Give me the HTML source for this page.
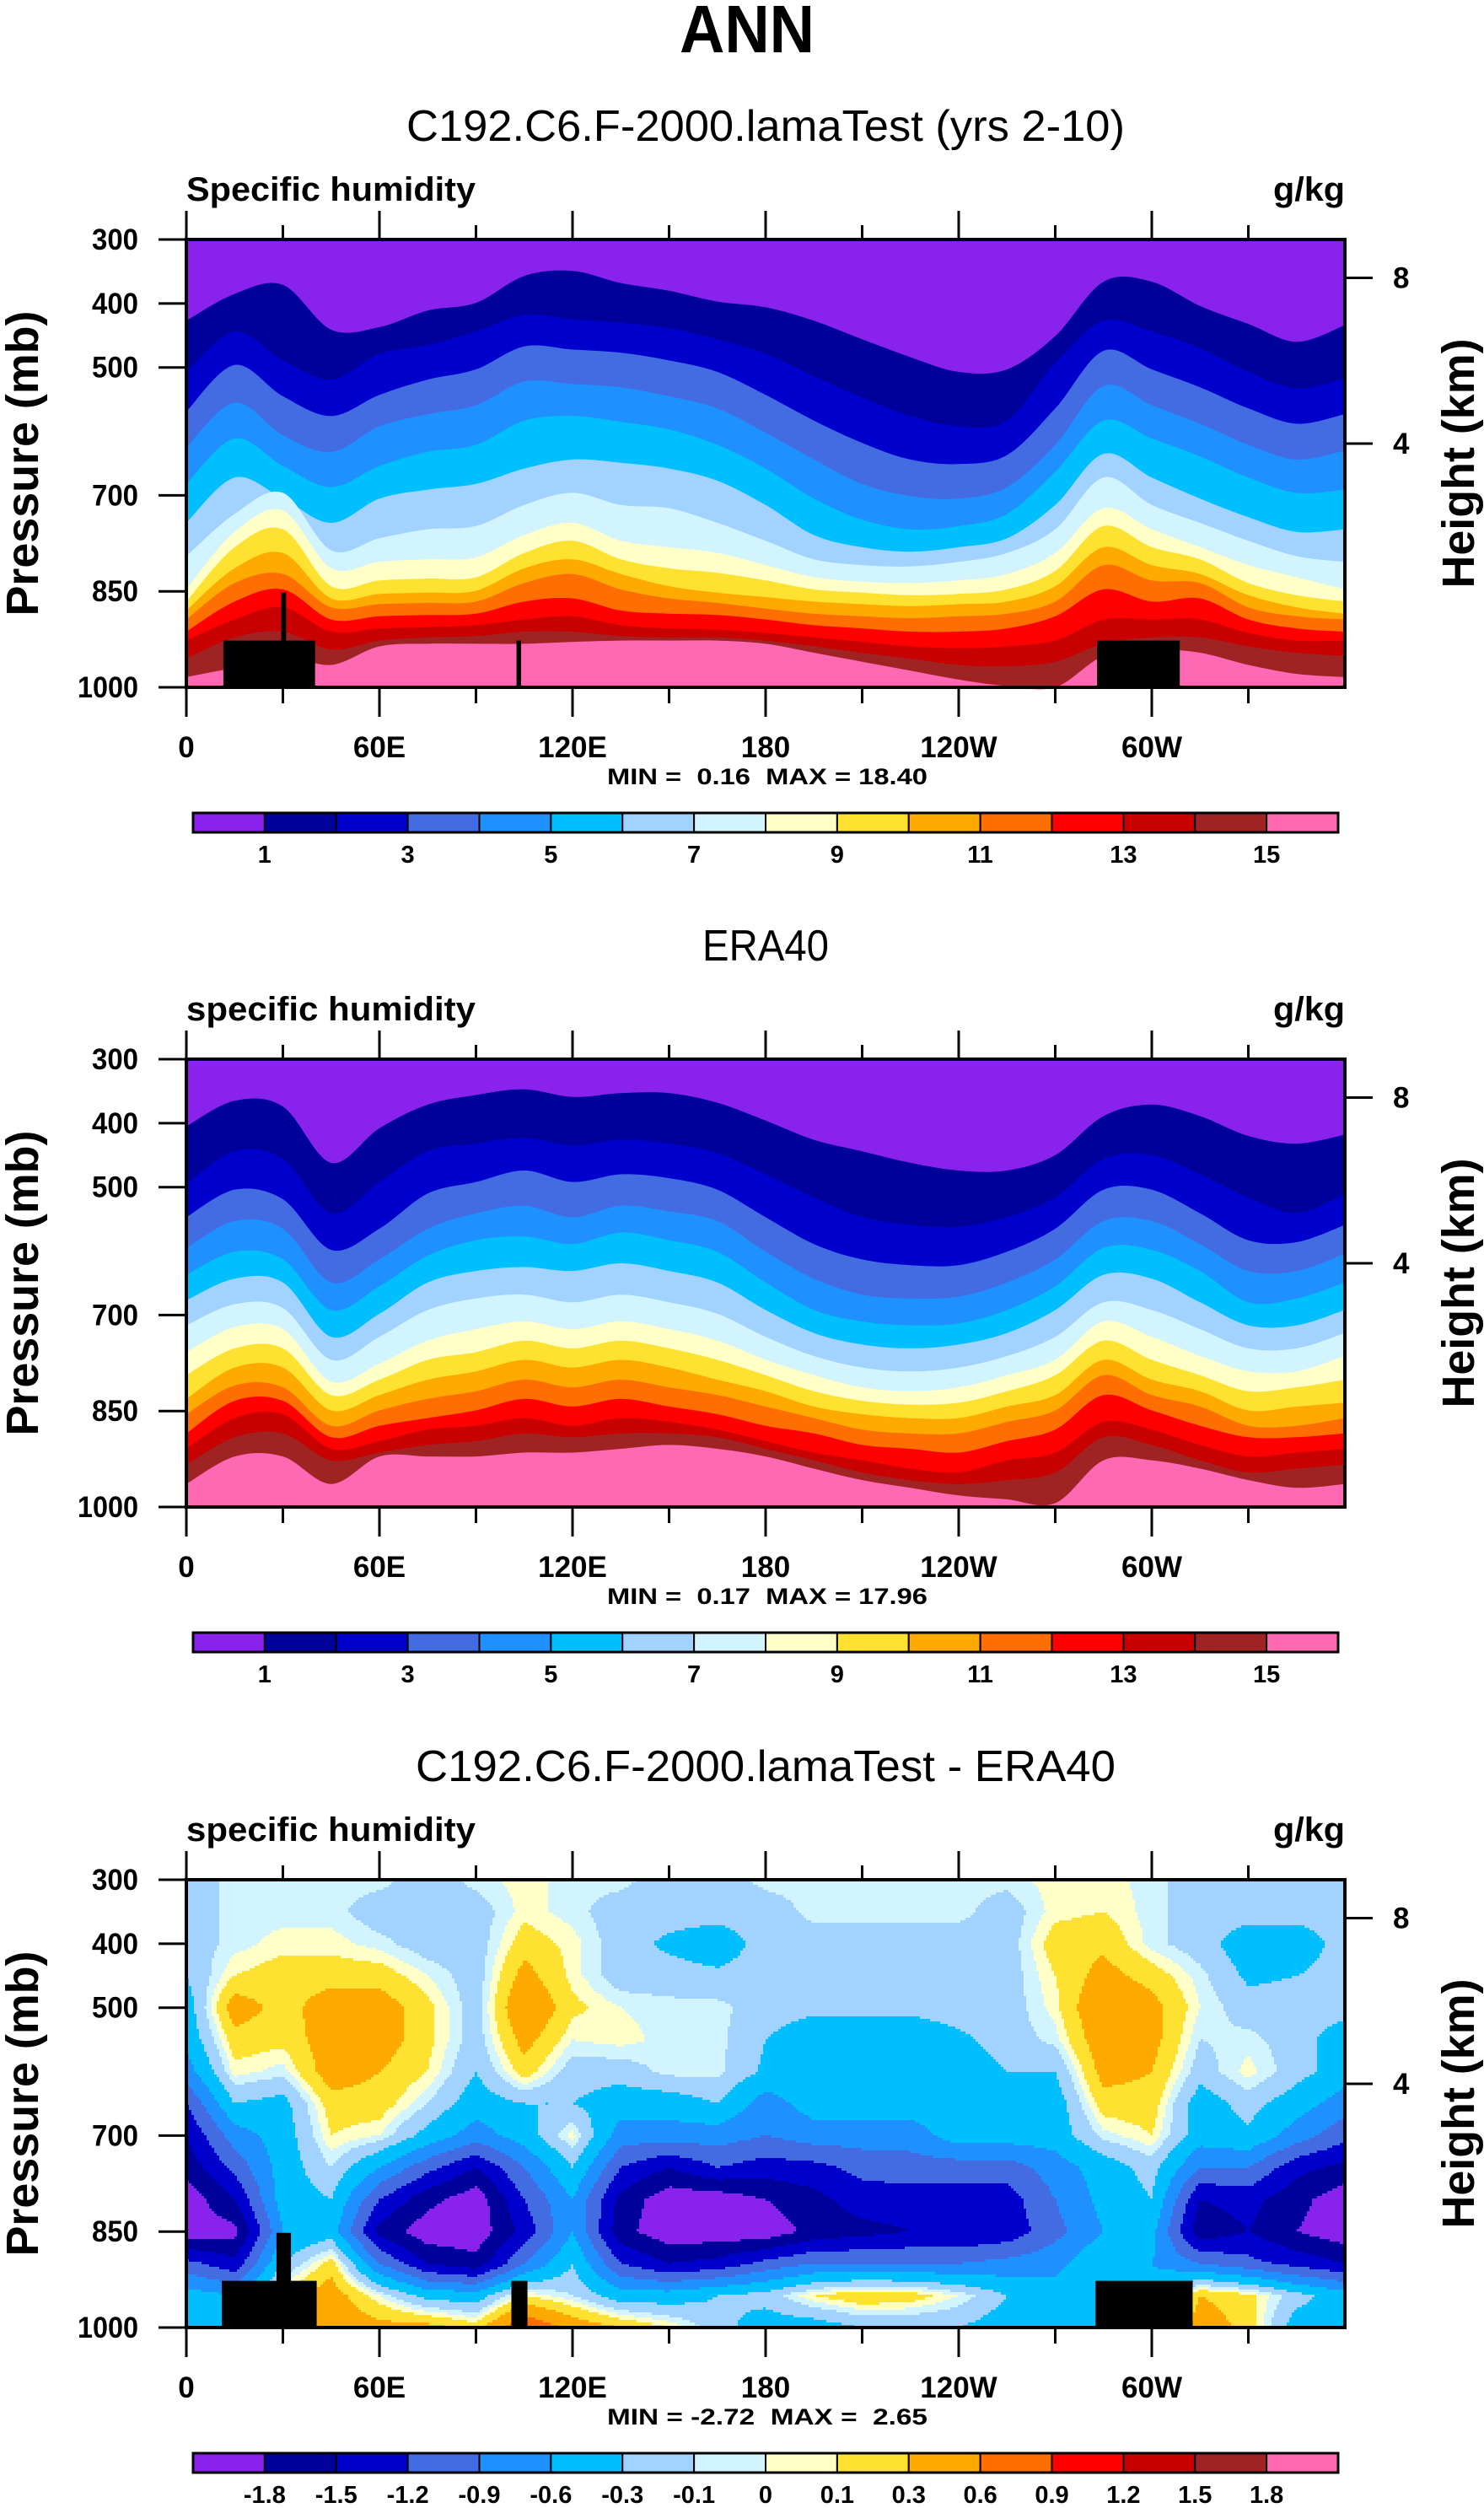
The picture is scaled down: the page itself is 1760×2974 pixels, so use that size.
<!DOCTYPE html>
<html><head><meta charset="utf-8"><title>ANN specific humidity</title>
<style>
html,body{margin:0;padding:0;background:#fff;}
svg{display:block;font-family:"Liberation Sans",Arial,sans-serif;}
.pre{white-space:pre;}
</style></head>
<body>
<svg id="chart" xmlns="http://www.w3.org/2000/svg" width="1760" height="2974" viewBox="0 0 1760 2974">
<rect x="0" y="0" width="1760" height="2974" fill="#fff"/>
</svg>
<script>
// ---------- shared data ----------
const lons = [0,15,30,45,60,75,90,105,120,135,150,165,180,195,210,225,240,255,270,285,300,315,330,345,360];
const palette = ["#8a22ee","#00009a","#0000cd","#436be2","#1f90ff","#00bfff","#a2d2ff","#d2f4ff","#ffffc8","#ffe132","#ffaa00","#ff6e00","#ff0000","#c80000","#a02323","#ff69b4"];
const levelLabelsAbs = ["1","3","5","7","9","11","13","15"];
const levelLabelsDiff = ["-1.8","-1.5","-1.2","-0.9","-0.6","-0.3","-0.1","0","0.1","0.3","0.6","0.9","1.2","1.5","1.8"];
const diffThresholds = [-1.8,-1.5,-1.2,-0.9,-0.6,-0.3,-0.1,0,0.1,0.3,0.6,0.9,1.2,1.5,1.8];
const lonTickLabels = ["0","60E","120E","180","120W","60W"];
const lonTickValues = [0,60,120,180,240,300];
const presTicks = [300,400,500,700,850,1000];
const heightTicks = ["8","4"];
const heightTickPres = [360,619];
const panelTitles = ["C192.C6.F-2000.lamaTest (yrs 2-10)","ERA40","C192.C6.F-2000.lamaTest - ERA40"];
const leftTitles = ["Specific humidity","specific humidity","specific humidity"];
const minmaxText = ["MIN =  0.16  MAX = 18.40","MIN =  0.17  MAX = 17.96","MIN = -2.72  MAX =  2.65"];

// ---------- panel 1 (model) : pressure (mb) of each q contour level 1..15 g/kg ----------
const model_q1 = [427,385,371,441,437,411,399,357,349,368,380,397,406,427,456,484,507,503,451,366,366,404,432,460,434];
const model_q2 = [507,444,489,519,479,465,444,418,425,430,439,456,479,514,547,576,592,583,493,427,444,470,507,533,517];
const model_q3 = [569,496,545,576,543,519,503,467,472,477,489,507,543,583,618,644,651,637,564,474,503,531,564,588,573];
const model_q4 = [625,555,606,632,592,573,559,522,526,531,545,564,602,644,682,701,705,687,621,529,559,588,621,644,630];
const model_q5 = [682,611,654,687,654,632,621,583,576,585,597,621,658,705,738,753,748,729,663,583,611,639,672,696,691];
const model_q6 = [743,672,705,743,705,691,682,658,644,649,658,677,715,762,781,788,781,767,715,635,672,705,734,757,753];
const model_q7 = [795,729,696,786,767,753,748,715,696,715,720,743,771,800,809,811,804,790,753,672,715,743,771,795,804];
const model_q8 = [847,757,724,814,804,800,797,762,743,771,781,790,809,828,835,837,833,823,790,720,753,781,809,828,847];
const model_q9 = [866,781,753,842,833,830,828,790,771,800,814,821,833,847,852,856,854,847,818,748,781,800,837,856,866];
const model_q10 = [880,814,790,861,854,852,849,814,800,823,842,852,859,866,870,873,870,866,842,781,809,823,856,875,885];
const model_q11 = [894,837,823,875,870,868,866,837,823,847,861,868,877,885,889,892,889,885,866,809,833,837,875,889,894];
const model_q12 = [913,866,847,894,889,887,885,866,861,880,885,887,894,903,908,913,913,908,889,847,866,861,894,908,913];
const model_q13 = [927,894,875,913,908,906,903,894,889,903,908,910,915,922,929,936,939,936,927,894,894,894,915,927,927];
const model_q14 = [955,922,913,941,927,922,920,913,913,920,922,922,927,936,946,955,965,967,960,932,922,922,936,946,951];
const model_q15 = [984,969,951,965,936,932,932,932,929,927,927,927,932,946,960,974,988,998,1000,951,941,946,965,979,984];

// ---------- panel 2 (ERA40) ----------
const era_q1 = [405,365,374,462,408,371,356,347,359,353,353,368,396,426,444,462,474,474,450,389,371,389,420,432,418];
const era_q2 = [495,444,456,541,492,444,432,423,435,426,432,447,480,516,547,559,562,547,516,456,450,480,516,541,510];
const era_q3 = [547,504,519,598,565,510,492,474,492,480,486,504,547,589,613,622,622,601,565,504,504,541,583,586,559];
const era_q4 = [595,553,565,649,613,565,541,529,547,529,538,553,601,643,668,674,671,649,613,553,553,589,631,631,604];
const era_q5 = [637,601,613,692,655,607,583,577,589,571,583,601,649,692,710,716,713,692,655,595,598,631,680,674,649];
const era_q6 = [677,643,649,734,698,649,631,625,631,619,631,649,692,728,746,752,746,728,692,637,643,680,716,716,692];
const era_q7 = [716,683,689,770,734,692,674,668,680,668,680,698,734,764,782,788,782,764,734,680,692,722,752,752,728];
const era_q8 = [758,719,722,804,776,740,722,710,722,710,722,740,770,794,813,819,813,794,770,710,734,764,788,788,764];
const era_q9 = [794,752,752,825,801,770,758,740,752,740,752,770,794,819,834,840,837,819,794,740,770,794,819,813,801];
const era_q10 = [831,782,782,849,825,801,788,770,782,770,782,801,819,843,855,861,861,843,825,770,801,819,849,843,837];
const era_q11 = [855,810,813,873,849,831,819,801,813,801,813,825,843,861,879,885,885,867,849,794,825,843,873,873,861];
const era_q12 = [885,834,834,891,873,861,849,831,843,831,843,855,873,885,903,909,915,897,879,825,849,873,891,891,885];
const era_q13 = [909,861,855,909,897,879,873,861,873,861,867,879,897,915,927,940,946,927,915,867,879,903,921,915,909];
const era_q14 = [934,891,885,927,915,903,897,885,891,885,885,891,909,927,946,958,964,958,946,891,903,927,946,940,934];
const era_q15 = [964,921,921,964,921,921,921,915,915,909,903,909,921,940,958,970,982,988,994,927,927,940,958,970,964];

// ---------- panel 3 (difference) : grid of values, rows = pressure ----------
const diffPres = [300,350,400,450,500,550,600,650,700,750,800,850,900,950,1000];
const d300 = [-0.2,-0.05,-0.05,-0.05,-0.05,-0.2,-0.05,0.05,-0.05,-0.05,-0.2,-0.2,-0.05,-0.05,-0.05,-0.05,-0.05,-0.05,0.05,0.05,-0.05,-0.2,-0.2,-0.2,-0.2];
const d350 = [-0.2,-0.05,-0.05,-0.05,-0.2,-0.2,-0.2,0.05,-0.05,-0.2,-0.2,-0.2,-0.2,-0.05,-0.05,-0.05,-0.05,-0.2,0.05,0.1,-0.05,-0.2,-0.2,-0.2,-0.2];
const d400 = [-0.2,-0.05,0.05,0.05,-0.05,-0.2,-0.2,0.2,0.05,-0.2,-0.35,-0.45,-0.2,-0.2,-0.2,-0.2,-0.2,-0.2,0.2,0.25,-0.05,-0.2,-0.45,-0.45,-0.2];
const d450 = [-0.3,0.1,0.2,0.2,0.2,0.0,-0.2,0.4,0.05,-0.2,-0.2,-0.25,-0.2,-0.2,-0.2,-0.2,-0.2,-0.2,0.1,0.4,0.2,-0.05,-0.35,-0.3,-0.2];
const d500 = [-0.45,0.45,0.2,0.45,0.45,0.15,-0.2,0.6,0.15,0.0,-0.05,-0.05,-0.2,-0.25,-0.25,-0.25,-0.2,-0.2,0.05,0.6,0.4,0.0,-0.2,-0.2,-0.2];
const d550 = [-0.5,0.2,0.15,0.45,0.45,0.15,-0.2,0.4,0.0,0.05,-0.05,-0.05,-0.3,-0.45,-0.45,-0.45,-0.35,-0.2,-0.05,0.5,0.4,-0.1,-0.05,-0.2,-0.45];
const d600 = [-0.75,0.05,-0.05,0.45,0.3,0.1,-0.3,0.2,-0.2,-0.2,-0.05,-0.05,-0.35,-0.45,-0.45,-0.45,-0.45,-0.3,-0.3,0.4,0.3,-0.2,0.05,-0.2,-0.45];
const d650 = [-1.2,-0.3,-0.4,0.2,0.2,-0.1,-0.45,-0.3,-0.3,-0.45,-0.45,-0.3,-0.75,-0.45,-0.45,-0.45,-0.45,-0.45,-0.45,0.2,0.2,-0.45,-0.2,-0.45,-0.75];
const d700 = [-1.5,-0.75,-0.45,0.1,0.0,-0.4,-0.75,-0.45,0.05,-0.75,-0.75,-0.75,-0.9,-0.75,-0.75,-0.75,-0.45,-0.45,-0.45,-0.05,0.1,-0.45,-0.35,-0.75,-1.1];
const d750 = [-1.7,-1.1,-0.45,-0.1,-0.6,-1.1,-1.5,-0.9,-0.3,-1.2,-1.5,-1.2,-1.35,-1.3,-1.1,-1.05,-1.05,-1.05,-0.75,-0.45,-0.2,-0.9,-0.9,-1.4,-1.6];
const d800 = [-2.0,-1.5,-0.45,-0.3,-1.2,-1.7,-2.0,-1.2,-0.6,-1.6,-2.0,-2.0,-1.8,-1.6,-1.35,-1.35,-1.35,-1.35,-0.9,-0.5,-0.3,-1.5,-1.4,-1.7,-2.0];
const d850 = [-2.0,-1.9,-0.6,-0.45,-1.6,-2.0,-2.0,-1.4,-0.6,-1.7,-2.0,-2.0,-2.0,-1.7,-1.6,-1.5,-1.5,-1.4,-1.0,-0.6,-0.5,-1.7,-1.5,-1.8,-2.0];
const d900 = [-1.1,-1.4,-0.3,0.2,-0.9,-1.5,-1.7,-0.9,-0.3,-1.2,-1.5,-1.4,-1.1,-0.9,-0.9,-0.9,-0.9,-0.8,-0.7,-0.3,-0.6,-0.9,-1.1,-1.3,-1.5];
const d950 = [-0.45,-0.6,0.2,0.45,0.0,-0.4,-0.45,0.1,-0.1,-0.45,-0.45,-0.3,-0.2,0.1,0.25,0.2,0.0,-0.3,-0.45,-0.3,-0.45,0.3,0.15,-0.2,-0.45];
const d1000 = [-0.45,-0.5,0.6,0.5,0.4,0.4,0.2,0.9,0.5,0.3,0.1,-0.2,-0.45,-0.45,-0.3,-0.3,-0.3,-0.45,-0.45,-0.3,-0.45,0.5,0.2,-0.45,-0.45];

// topography masks: [lon start, lon end, top pressure]
const topoModel = [[11.5,40,927],[29.5,31,852],[102.6,104,927],[283,308.7,927]];
const topoDiff = [[11,40.5,927],[28,32.5,852],[101,106,927],[282.5,312.7,927]];

// ---------- layout ----------
const NS = "http://www.w3.org/2000/svg";
const svg = document.getElementById('chart');
const PL = 221, PR = 1595, PW = PR - PL, PH = 531;
const tops = [284, 1256, 2229];

function el(tag, attrs, parent) {
  const e = document.createElementNS(NS, tag);
  for (const k in attrs) e.setAttribute(k, attrs[k]);
  (parent || svg).appendChild(e);
  return e;
}
function txt(s, attrs, parent) { const t = el('text', attrs, parent); t.textContent = s; return t; }
function xS(lon) { return PL + lon / 360 * PW; }
function yS(p, T) { return T + (p - 300) / 700 * PH; }

function smoothPath(pts) {
  let d = "M" + pts[0][0].toFixed(1) + "," + pts[0][1].toFixed(1);
  for (let i = 0; i < pts.length - 1; i++) {
    const p0 = pts[i - 1] || pts[i], p1 = pts[i], p2 = pts[i + 1], p3 = pts[i + 2] || p2;
    const c1x = p1[0] + (p2[0] - p0[0]) / 6, c1y = p1[1] + (p2[1] - p0[1]) / 6;
    const c2x = p2[0] - (p3[0] - p1[0]) / 6, c2y = p2[1] - (p3[1] - p1[1]) / 6;
    d += " C" + c1x.toFixed(1) + "," + c1y.toFixed(1) + " " + c2x.toFixed(1) + "," + c2y.toFixed(1) + " " + p2[0].toFixed(1) + "," + p2[1].toFixed(1);
  }
  return d;
}

// ANN title
const ann = txt("ANN", {x: 886, y: 62, 'font-size': 80, 'font-weight': 'bold', 'text-anchor': 'middle', textLength: 160, lengthAdjust: 'spacingAndGlyphs'});



function drawFrame(i, T) {
  const g = el('g', {});
  
  
  const tw = [852, 150, 830][i];
  const st = txt(panelTitles[i], {x: 908, y: T - 117, 'font-size': 52, 'text-anchor': 'middle', textLength: tw, lengthAdjust: 'spacingAndGlyphs'}, g);
  
  
  const lt = txt(leftTitles[i], {x: PL, y: T - 46, 'font-size': 40, 'font-weight': 'bold', textLength: 343, lengthAdjust: 'spacingAndGlyphs'}, g);
  
  
  const ut = txt("g/kg", {x: PR, y: T - 46, 'font-size': 40, 'font-weight': 'bold', 'text-anchor': 'end', textLength: 85, lengthAdjust: 'spacingAndGlyphs'}, g);
  
  
  const b = el('rect', {x: PL, y: T, width: PW, height: PH, fill: 'none', stroke: '#000', 'stroke-width': 4}, g);
  
  
  for (let lon = 0; lon <= 330; lon += 30) {
    const major = lon % 60 === 0;
    const x = xS(lon);
    el('line', {x1: x, x2: x, y1: T, y2: T - (major ? 34 : 17), stroke: '#000', 'stroke-width': 3}, g);
    el('line', {x1: x, x2: x, y1: T + PH, y2: T + PH + (major ? 35 : 19), stroke: '#000', 'stroke-width': 3}, g);
  }
  lonTickValues.forEach((lon, k) => {
    const t = txt(lonTickLabels[k], {x: xS(lon), y: T + PH + 83, 'font-size': 35, 'font-weight': 'bold', 'text-anchor': 'middle'}, g);
    
    
  });
  presTicks.forEach(p => {
    const y = yS(p, T);
    el('line', {x1: 188, x2: PL, y1: y, y2: y, stroke: '#000', 'stroke-width': 3}, g);
    const t = txt(String(p), {x: 164, y: y + 12, 'font-size': 35, 'font-weight': 'bold', 'text-anchor': 'end', textLength: p === 1000 ? 72 : 55, lengthAdjust: 'spacingAndGlyphs'}, g);
    
    
  });
  heightTickPres.forEach((p, k) => {
    const y = yS(p, T);
    el('line', {x1: PR, x2: PR + 33, y1: y, y2: y, stroke: '#000', 'stroke-width': 3}, g);
    const t = txt(heightTicks[k], {x: 1652, y: y + 12, 'font-size': 35, 'font-weight': 'bold'}, g);
    
    
  });
  const cy = T + PH / 2;
  const yl = txt("Pressure (mb)", {x: 0, y: 0, 'font-size': 54, 'font-weight': 'bold', 'text-anchor': 'middle', textLength: 362, lengthAdjust: 'spacingAndGlyphs', transform: 'translate(45,' + cy + ') rotate(-90)'}, g);
  
  
  const yr = txt("Height (km)", {x: 0, y: 0, 'font-size': 54, 'font-weight': 'bold', 'text-anchor': 'middle', textLength: 296, lengthAdjust: 'spacingAndGlyphs', transform: 'translate(1748,' + cy + ') rotate(-90)'}, g);
  
  
  const mm = txt(minmaxText[i], {x: 910, y: T + PH + 115, 'font-size': 27, 'font-weight': 'bold', 'text-anchor': 'middle', 'class': 'pre', textLength: 380, lengthAdjust: 'spacingAndGlyphs'}, g);
  
  
  const cb = el('g', {}, g);
  
  
  const cx0 = 229, cx1 = 1587, bw = (cx1 - cx0) / 16, cyb = T + PH + 149;
  palette.forEach((c, k) => {
    const r = el('rect', {x: cx0 + k * bw, y: cyb, width: bw, height: 23, fill: c, stroke: '#000', 'stroke-width': 2}, cb);
    
    
  });
  el('rect', {x: cx0, y: cyb, width: cx1 - cx0, height: 23, fill: 'none', stroke: '#000', 'stroke-width': 3}, cb);
  if (i < 2) {
    levelLabelsAbs.forEach((s, k) => {
      const t = txt(s, {x: cx0 + (2 * k + 1) * bw, y: cyb + 59, 'font-size': 29, 'font-weight': 'bold', 'text-anchor': 'middle'}, cb);
      
      
    });
  } else {
    levelLabelsDiff.forEach((s, k) => {
      const t = txt(s, {x: cx0 + (k + 1) * bw, y: cyb + 59, 'font-size': 29, 'font-weight': 'bold', 'text-anchor': 'middle'}, cb);
      
      
    });
  }
}

function drawLayers(levels, T, name) {
  const g = el('g', {});
  
  
  const bg = el('rect', {x: PL, y: T, width: PW, height: PH, fill: palette[0]}, g);
  
  
  levels.forEach((arr, k) => {
    const pts = arr.map((p, j) => [xS(lons[j]), Math.min(yS(p, T), T + PH)]);
    const d = smoothPath(pts) + " L" + PR + "," + (T + PH) + " L" + PL + "," + (T + PH) + " Z";
    const path = el('path', {d: d, fill: palette[k + 1]}, g);
    
    
  });
}

function drawTopo(boxes, T) {
  boxes.forEach(b => {
    const r = el('rect', {x: xS(b[0]), y: yS(b[2], T), width: xS(b[1]) - xS(b[0]), height: T + PH - yS(b[2], T), fill: '#000'});
    
    
  });
}

function drawDiff(T) {
  const rows = [d300,d350,d400,d450,d500,d550,d600,d650,d700,d750,d800,d850,d900,d950,d1000];
  const g = el('g', {'shape-rendering': 'crispEdges'});
  
  
  const cw = 3, ch = 3;
  function val(lon, p) {
    let j = Math.min(Math.floor(lon / 15), lons.length - 2);
    let i = Math.min(Math.floor((p - 300) / 50), diffPres.length - 2);
    const fx = (lon - lons[j]) / 15, fy = (p - diffPres[i]) / 50;
    const a = rows[i][j], b = rows[i][j + 1], c = rows[i + 1][j], d = rows[i + 1][j + 1];
    return a * (1 - fx) * (1 - fy) + b * fx * (1 - fy) + c * (1 - fx) * fy + d * fx * fy;
  }
  function lvl(v) { let n = 0; for (const t of diffThresholds) if (v >= t) n++; return n; }
  for (let py = 0; py < PH; py += ch) {
    const p = 300 + (py + ch / 2) / PH * 700;
    let runStart = 0, runL = -1;
    for (let px = 0; px <= PW; px += cw) {
      const L = px < PW ? lvl(val((px + cw / 2) / PW * 360, p)) : -2;
      if (L !== runL) {
        if (runL >= 0) {
          const r = el('rect', {x: PL + runStart, y: T + py, width: Math.min(px, PW) - runStart, height: Math.min(ch, PH - py), fill: palette[runL]}, g);
          
          
        }
        runStart = px; runL = L;
      }
    }
  }
}

drawLayers([model_q1,model_q2,model_q3,model_q4,model_q5,model_q6,model_q7,model_q8,model_q9,model_q10,model_q11,model_q12,model_q13,model_q14,model_q15], tops[0], 'model-contours');
drawTopo(topoModel, tops[0]);
drawLayers([era_q1,era_q2,era_q3,era_q4,era_q5,era_q6,era_q7,era_q8,era_q9,era_q10,era_q11,era_q12,era_q13,era_q14,era_q15], tops[1], 'era40-contours');
drawDiff(tops[2]);
drawTopo(topoDiff, tops[2]);
[0,1,2].forEach(i => drawFrame(i, tops[i]));
</script>
</body></html>
